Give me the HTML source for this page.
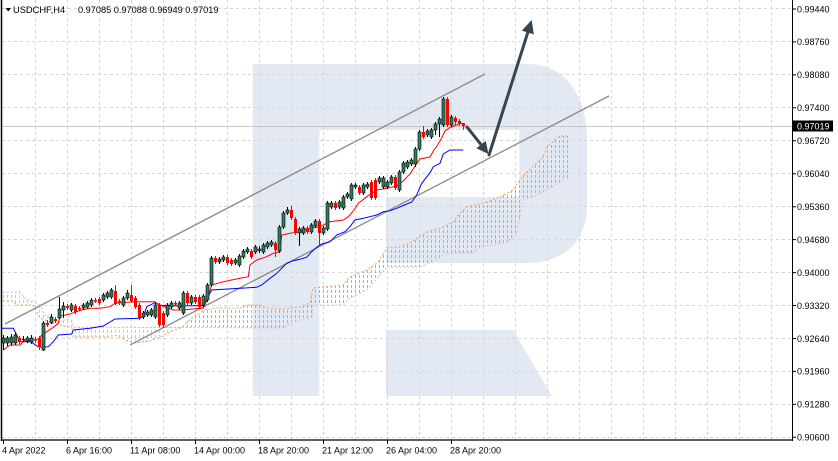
<!DOCTYPE html>
<html><head><meta charset="utf-8"><style>
html,body{margin:0;padding:0;background:#fff;}
svg{display:block;font-family:"Liberation Sans",Arial,sans-serif;}
</style></head><body>
<svg width="838" height="461" viewBox="0 0 838 461" xmlns="http://www.w3.org/2000/svg">
<defs>
<clipPath id="cp1"><polygon points="3,301 13,301 16,305 33,305 40,318 50,322 60,325 72,328 73,337 110,337 115,335 125,340 135,343 150,341 160,337 170,332 180,328 180,327 73,327 72,320 55,320 45,315 40,305 25,298 20,292 3,292"/></clipPath>
<clipPath id="cp2"><polygon points="180,328 185,325 187,322 195,316 205,310 215,308 240,308 247,305 260,305 267,308 280,309 300,307 310,303 313,288 323,287 343,285 350,277 367,270 377,263 387,248 400,247 410,243 417,238 427,232 443,227 453,222 460,213 467,207 487,202 500,197 513,190 520,180 527,172 537,163 543,157 547,147 557,138 560,136 568,136 568,178 560,182 547,190 533,197 523,200 517,233 507,242 493,245 480,247 473,253 447,253 430,263 420,267 387,267 367,290 350,298 343,305 313,305 312,317 290,323 285,328 180,327"/></clipPath>
<path id="vl" d="M3.5 130V350M7.5 130V350M11.5 130V350M15.5 130V350M19.5 130V350M23.5 130V350M27.5 130V350M31.5 130V350M35.5 130V350M39.5 130V350M43.5 130V350M47.5 130V350M51.5 130V350M55.5 130V350M59.5 130V350M63.5 130V350M67.5 130V350M71.5 130V350M75.5 130V350M79.5 130V350M83.5 130V350M87.5 130V350M91.5 130V350M95.5 130V350M99.5 130V350M103.5 130V350M107.5 130V350M111.5 130V350M115.5 130V350M119.5 130V350M123.5 130V350M127.5 130V350M131.5 130V350M135.5 130V350M139.5 130V350M143.5 130V350M147.5 130V350M151.5 130V350M155.5 130V350M159.5 130V350M163.5 130V350M167.5 130V350M171.5 130V350M175.5 130V350M179.5 130V350M183.5 130V350M187.5 130V350M191.5 130V350M195.5 130V350M199.5 130V350M203.5 130V350M207.5 130V350M211.5 130V350M215.5 130V350M219.5 130V350M223.5 130V350M227.5 130V350M231.5 130V350M235.5 130V350M239.5 130V350M243.5 130V350M247.5 130V350M251.5 130V350M255.5 130V350M259.5 130V350M263.5 130V350M267.5 130V350M271.5 130V350M275.5 130V350M279.5 130V350M283.5 130V350M287.5 130V350M291.5 130V350M295.5 130V350M299.5 130V350M303.5 130V350M307.5 130V350M311.5 130V350M315.5 130V350M319.5 130V350M323.5 130V350M327.5 130V350M331.5 130V350M335.5 130V350M339.5 130V350M343.5 130V350M347.5 130V350M351.5 130V350M355.5 130V350M359.5 130V350M363.5 130V350M367.5 130V350M371.5 130V350M375.5 130V350M379.5 130V350M383.5 130V350M387.5 130V350M391.5 130V350M395.5 130V350M399.5 130V350M403.5 130V350M407.5 130V350M411.5 130V350M415.5 130V350M419.5 130V350M423.5 130V350M427.5 130V350M431.5 130V350M435.5 130V350M439.5 130V350M443.5 130V350M447.5 130V350M451.5 130V350M455.5 130V350M459.5 130V350M463.5 130V350M467.5 130V350M471.5 130V350M475.5 130V350M479.5 130V350M483.5 130V350M487.5 130V350M491.5 130V350M495.5 130V350M499.5 130V350M503.5 130V350M507.5 130V350M511.5 130V350M515.5 130V350M519.5 130V350M523.5 130V350M527.5 130V350M531.5 130V350M535.5 130V350M539.5 130V350M543.5 130V350M547.5 130V350M551.5 130V350M555.5 130V350M559.5 130V350M563.5 130V350M567.5 130V350"/>
</defs>
<rect width="838" height="461" fill="#fff"/>
<!-- watermark -->
<path d="M252.7,64 L527,64 C565,64 587,95 587,140 L587,205 C587,240 565,263 527,263 L386,263 L386,197 L519.3,197 L519.3,130 L319.3,130 L319.3,396 L252.7,396 Z" fill="#e3e9f2"/>
<polygon points="386,330 513,330 552,396 386,396" fill="#e3e9f2"/>
<!-- grid -->
<g stroke="#d6d6d6" stroke-width="1" stroke-dasharray="3,3" fill="none">
<path d="M2 8.5H792M2 41.5H792M2 74.5H792M2 107.5H792M2 140.5H792M2 173.5H792M2 206.5H792M2 239.5H792M2 272.5H792M2 305.5H792M2 338.5H792M2 371.5H792M2 404.5H792M2 437.5H792"/>
<path d="M35.5 0V440M67.5 0V440M99.5 0V440M131.5 0V440M163.5 0V440M195.5 0V440M227.5 0V440M259.5 0V440M291.5 0V440M323.5 0V440M355.5 0V440M387.5 0V440M419.5 0V440M451.5 0V440M483.5 0V440M515.5 0V440M547.5 0V440M579.5 0V440M611.5 0V440M643.5 0V440M675.5 0V440M707.5 0V440M739.5 0V440M771.5 0V440"/>
</g>
<!-- current price line -->
<line x1="2" y1="126.5" x2="792" y2="126.5" stroke="#c8c8c8" stroke-width="1"/>
<!-- cloud hatch -->
<g clip-path="url(#cp1)"><use href="#vl" stroke="#d8bfd8" stroke-width="1" stroke-dasharray="3,2" fill="none"/></g>
<g clip-path="url(#cp2)"><use href="#vl" stroke="#f0a060" stroke-width="1" stroke-dasharray="3,2" fill="none"/></g>
<polyline fill="none" stroke="#f0a060" stroke-width="1" stroke-dasharray="2,2" points="3,301 13,301 16,305 33,305 40,318 50,322 60,325 72,328 73,337 110,337 115,335 125,340 135,343 150,341 160,337 170,332 180,328 185,325 187,322 195,316 205,310 215,308 240,308 247,305 260,305 267,308 280,309 300,307 310,303 313,288 323,287 343,285 350,277 367,270 377,263 387,248 400,247 410,243 417,238 427,232 443,227 453,222 460,213 467,207 487,202 500,197 513,190 520,180 527,172 537,163 543,157 547,147 557,138 560,136 568,136"/>
<polyline fill="none" stroke="#d8bfd8" stroke-width="1" stroke-dasharray="2,2" points="3,292 20,292 25,298 40,305 45,315 55,320 72,320 73,327 285,328 290,323 312,317 313,305 343,305 350,298 367,290 387,267 420,267 430,263 447,253 473,253 480,247 493,245 507,242 517,233 523,200 533,197 547,190 560,182 568,178"/>
<!-- channel -->
<g stroke="#8e8e8e" stroke-width="1.4">
<line x1="5" y1="324" x2="485" y2="74"/>
<line x1="130" y1="345" x2="609" y2="96"/>
</g>
<!-- kijun -->
<polyline fill="none" stroke="#0000ff" stroke-width="1" points="2,328.3 13.3,328.3 18.3,338.3 20,341.7 30,341.7 33.3,343.3 36.7,346 41.7,347.3 48.3,346.7 53.3,341.7 58.3,335 71.7,334 73.3,330 90,328.3 103.3,326 115,319 140,318.3 143.3,316.7 146.7,306.7 155,302.7 160,305.3 180,306 203.3,305.5 208.3,296 211.7,290 256.7,287.3 261.7,285 270,278.3 276.7,273.3 281.7,268.3 286.7,263.3 293.3,260.7 300,259.3 306.7,257.3 311.7,251.7 316.7,247.3 321.7,244 330,241.7 336.7,235 345,231.7 350,226.7 355,220 363.3,218.3 376.7,215 383.3,211.7 390,210.7 396.7,208.3 403.3,205.5 411.7,202 416.7,195 421.7,183.3 430,172.7 433.3,166.7 440,163.3 443.3,154 450,150 463.3,150"/>
<!-- tenkan -->
<polyline fill="none" stroke="#ff0000" stroke-width="1" points="3.3,350 10,345 20,345 25,340 35,340 40,338 41.7,335 46.7,331.7 53.3,327.3 58.3,323.3 60,316 70,314 76.7,311.7 81.7,310 90,308.3 100,308.3 110,306.7 115,303.3 133.3,301.7 155,301.7 156.7,303.3 160,305 173.3,310 181.7,310 203.3,308 207,300 211.7,285 223.3,281.7 240,278.3 248.3,276.7 250,265 256.7,260 265,257.3 270,255 273.3,253.3 280,251.7 281.7,235 290,233.3 300,231.7 310,228.3 320,226.7 326.7,223.3 330,221.7 343.3,220 348.3,216.7 353.3,211 358.3,203.3 366.7,196.7 376.7,190 386.7,188.3 396.7,186 403.3,181 410,174 415,166 420,159 430,157 433.3,151 437,146 441.7,138 445,131 450,127.5 456.7,125 460,123 463.3,124"/>
<!-- bull wicks -->
<path stroke="#000" stroke-width="1" fill="none" d="M3.5 335V350M7.5 336V346M11.5 334V346M15.5 333V345M27.5 336V343M31.5 335V344M43.5 321V351M51.5 314V324M59.5 297V319M63.5 302V318M71.5 303V312M83.5 303V310M87.5 301V309M91.5 298V307M103.5 293V302M107.5 291V299M111.5 288V299M123.5 296V307M127.5 290V300M143.5 311V319M147.5 310V317M151.5 308V317M155.5 303V319M167.5 303V317M171.5 301V309M179.5 301V310M183.5 291V315M191.5 295V305M203.5 294V307M207.5 283V302M211.5 256V287M219.5 257V264M223.5 255V262M235.5 258V265M239.5 254V267M243.5 249V259M247.5 247V254M255.5 245V254M259.5 246V253M263.5 243V254M267.5 241V249M271.5 240V247M279.5 225V253M283.5 211V229M287.5 207V215M299.5 227V246M303.5 226V235M311.5 223V234M315.5 219V228M323.5 226V235M327.5 201V231M331.5 201V209M339.5 200V209M343.5 195V210M347.5 192V199M351.5 183V201M355.5 183V189M363.5 183V195M367.5 182V189M379.5 176V184M383.5 176V189M387.5 180V189M391.5 175V185M399.5 170V192M403.5 161V174M407.5 160V169M411.5 158V166M415.5 147V167M419.5 130V151M427.5 129V137M431.5 128V139M435.5 122V135M439.5 117V137M443.5 97V127M451.5 115V127M23.5 336V342M22 339.5H25"/>
<!-- bull bodies -->
<g fill="#357a60" stroke="#000" stroke-width="0.6">
<rect x="2" y="338" width="3" height="5"/><rect x="6" y="338" width="3" height="5"/><rect x="10" y="337" width="3" height="6"/><rect x="14" y="335" width="3" height="8"/><rect x="26" y="338" width="3" height="3"/><rect x="30" y="338" width="3" height="4"/><rect x="42" y="323" width="3" height="27"/><rect x="50" y="317" width="3" height="6"/><rect x="58" y="309" width="3" height="9"/><rect x="62" y="306" width="3" height="4"/><rect x="70" y="305" width="3" height="5"/><rect x="82" y="305" width="3" height="3"/><rect x="86" y="303" width="3" height="4"/><rect x="90" y="300" width="3" height="5"/><rect x="102" y="295" width="3" height="5"/><rect x="106" y="293" width="3" height="4"/><rect x="110" y="290" width="3" height="7"/><rect x="122" y="298" width="3" height="7"/><rect x="126" y="293" width="3" height="5"/><rect x="142" y="313" width="3" height="4"/><rect x="146" y="312" width="3" height="3"/><rect x="150" y="310" width="3" height="5"/><rect x="154" y="305" width="3" height="12"/><rect x="166" y="305" width="3" height="10"/><rect x="170" y="303" width="3" height="4"/><rect x="178" y="303" width="3" height="5"/><rect x="182" y="293" width="3" height="20"/><rect x="190" y="297" width="3" height="6"/><rect x="202" y="296" width="3" height="9"/><rect x="206" y="285" width="3" height="15"/><rect x="210" y="258" width="3" height="27"/><rect x="218" y="259" width="3" height="3"/><rect x="222" y="257" width="3" height="3"/><rect x="234" y="260" width="3" height="3"/><rect x="238" y="256" width="3" height="9"/><rect x="242" y="251" width="3" height="6"/><rect x="246" y="249" width="3" height="3"/><rect x="254" y="247" width="3" height="5"/><rect x="258" y="249" width="3" height="1.5"/><rect x="262" y="245" width="3" height="7"/><rect x="266" y="243" width="3" height="4"/><rect x="270" y="242" width="3" height="3"/><rect x="278" y="227" width="3" height="24"/><rect x="282" y="213" width="3" height="14"/><rect x="286" y="210" width="3" height="3"/><rect x="298" y="229" width="3" height="4"/><rect x="302" y="228" width="3" height="5"/><rect x="310" y="225" width="3" height="7"/><rect x="314" y="221" width="3" height="5"/><rect x="322" y="228" width="3" height="5"/><rect x="326" y="203" width="3" height="26"/><rect x="330" y="203" width="3" height="4"/><rect x="338" y="202" width="3" height="5"/><rect x="342" y="197" width="3" height="11"/><rect x="346" y="194" width="3" height="3"/><rect x="350" y="185" width="3" height="14"/><rect x="354" y="185" width="3" height="2"/><rect x="362" y="185" width="3" height="8"/><rect x="366" y="184" width="3" height="3"/><rect x="378" y="178" width="3" height="4"/><rect x="382" y="178" width="3" height="9"/><rect x="386" y="182" width="3" height="5"/><rect x="390" y="177" width="3" height="6"/><rect x="398" y="172" width="3" height="18"/><rect x="402" y="163" width="3" height="9"/><rect x="406" y="162" width="3" height="5"/><rect x="410" y="160" width="3" height="4"/><rect x="414" y="149" width="3" height="15"/><rect x="418" y="132" width="3" height="17"/><rect x="426" y="131" width="3" height="4"/><rect x="430" y="130" width="3" height="7"/><rect x="434" y="124" width="3" height="6"/><rect x="438" y="119" width="3" height="5"/><rect x="442" y="99" width="3" height="26"/><rect x="450" y="117" width="3" height="8"/>
</g>
<!-- bear wicks -->
<path stroke="#ff0000" stroke-width="1" fill="none" d="M19.5 336V344M35.5 337V343M39.5 336V350M47.5 320V327M55.5 317V323M67.5 304V310M75.5 304V314M79.5 306V311M95.5 298V303M99.5 297V305M115.5 285V305M119.5 299V305M131.5 285V303M135.5 296V309M139.5 303V320M159.5 303V327M163.5 311V328M175.5 301V306M187.5 291V305M195.5 295V304M199.5 295V309M215.5 256V264M227.5 255V265M231.5 258V266M251.5 249V259M275.5 241V257M291.5 206V220M295.5 217V235M307.5 226V234M319.5 219V246M335.5 201V210M359.5 185V195M371.5 180V200M375.5 178V200M395.5 175V190M423.5 126V139M447.5 97V127M455.5 116V125M459.5 119V126M463.5 122.9V129.7"/>
<!-- bear bodies -->
<g fill="#ff0000">
<rect x="18" y="338" width="3" height="4"/><rect x="34" y="339" width="3" height="1.5"/><rect x="38" y="338" width="3" height="9"/><rect x="46" y="323" width="3" height="2"/><rect x="54" y="319" width="3" height="2"/><rect x="66" y="306" width="3" height="2"/><rect x="74" y="306" width="3" height="6"/><rect x="78" y="308" width="3" height="1.5"/><rect x="94" y="300" width="3" height="1.5"/><rect x="98" y="299" width="3" height="4"/><rect x="114" y="291" width="3" height="13"/><rect x="118" y="301" width="3" height="2"/><rect x="130" y="295" width="3" height="6"/><rect x="134" y="298" width="3" height="9"/><rect x="138" y="305" width="3" height="13"/><rect x="158" y="305" width="3" height="20"/><rect x="162" y="313" width="3" height="12"/><rect x="174" y="303" width="3" height="1.5"/><rect x="186" y="293" width="3" height="10"/><rect x="194" y="297" width="3" height="5"/><rect x="198" y="297" width="3" height="10"/><rect x="214" y="258" width="3" height="4"/><rect x="226" y="257" width="3" height="6"/><rect x="230" y="260" width="3" height="4"/><rect x="250" y="251" width="3" height="6"/><rect x="274" y="243" width="3" height="7"/><rect x="290" y="210" width="3" height="8"/><rect x="294" y="219" width="3" height="14"/><rect x="306" y="228" width="3" height="4"/><rect x="318" y="221" width="3" height="12"/><rect x="334" y="203" width="3" height="5"/><rect x="358" y="187" width="3" height="6"/><rect x="370" y="182" width="3" height="16"/><rect x="374" y="180" width="3" height="18"/><rect x="394" y="177" width="3" height="11"/><rect x="422" y="132" width="3" height="5"/><rect x="446" y="99" width="3" height="26"/><rect x="454" y="118" width="3" height="4"/><rect x="458" y="121" width="3" height="3"/><rect x="462" y="123.1" width="3" height="3.2"/>
</g>
<!-- arrows -->
<g stroke="#36454f" stroke-width="3" fill="#36454f" stroke-linecap="round">
<line x1="467" y1="127" x2="481" y2="144.6"/>
<polygon stroke="none" points="488.5,154 476.3,148.3 485.7,140.9"/>
<line x1="489" y1="155" x2="527.8" y2="32.4"/>
<polygon stroke="none" points="531.7,20 533.8,34.4 521.8,30.6"/>
</g>
<!-- frame -->
<g stroke="#000" fill="none">
<line x1="1.5" y1="0" x2="1.5" y2="441" stroke-width="1.5"/>
<line x1="792.5" y1="0" x2="792.5" y2="441" stroke-width="1"/>
<line x1="1" y1="440" x2="793" y2="440" stroke-width="1.3"/>
<path stroke-width="1" d="M792 9H796M792 41.9H796M792 74.9H796M792 107.8H796M792 140.8H796M792 173.7H796M792 206.7H796M792 239.6H796M792 272.6H796M792 305.5H796M792 338.5H796M792 371.4H796M792 404.4H796M792 437.3H796"/>
<path stroke-width="1" d="M3.5 440V444M67.5 440V444M131.5 440V444M195.5 440V444M259.5 440V444M323.5 440V444M387.5 440V444M451.5 440V444"/>
</g>
<!-- right axis labels -->
<g font-size="9" fill="#000">
<text x="797" y="12.3">0.99440</text>
<text x="797" y="45.2">0.98760</text>
<text x="797" y="78.2">0.98080</text>
<text x="797" y="111.1">0.97400</text>
<text x="797" y="144.1">0.96720</text>
<text x="797" y="177">0.96040</text>
<text x="797" y="210">0.95360</text>
<text x="797" y="242.9">0.94680</text>
<text x="797" y="275.9">0.94000</text>
<text x="797" y="308.8">0.93320</text>
<text x="797" y="341.8">0.92640</text>
<text x="797" y="374.7">0.91960</text>
<text x="797" y="407.7">0.91280</text>
<text x="797" y="440.6">0.90600</text>
</g>
<rect x="793" y="120.5" width="40" height="11" fill="#000"/>
<text x="797" y="129.5" font-size="9" fill="#fff">0.97019</text>
<!-- date labels -->
<g font-size="9" fill="#000">
<text x="2" y="453.5">4 Apr 2022</text>
<text x="66" y="453.5">6 Apr 16:00</text>
<text x="130" y="453.5">11 Apr 08:00</text>
<text x="194" y="453.5">14 Apr 00:00</text>
<text x="258" y="453.5">18 Apr 20:00</text>
<text x="322" y="453.5">21 Apr 12:00</text>
<text x="386" y="453.5">26 Apr 04:00</text>
<text x="450" y="453.5">28 Apr 20:00</text>
</g>
<!-- title -->
<polygon points="5.5,8 11,8 8.25,11.5" fill="#000"/>
<text x="13" y="13" font-size="9.3" fill="#000">USDCHF,H4</text>
<text x="78" y="13" font-size="9.2" fill="#000">0.97085 0.97088 0.96949 0.97019</text>
</svg>
</body></html>
